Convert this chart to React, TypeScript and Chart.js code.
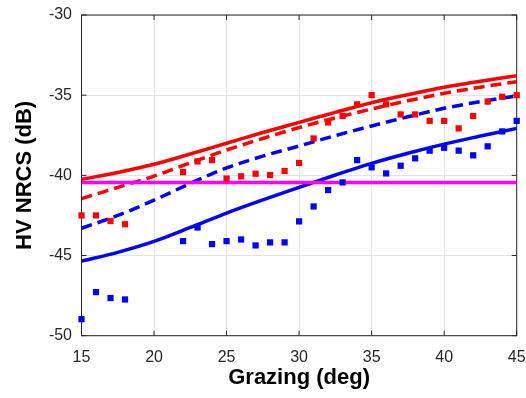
import { useEffect, useRef } from "react";
import { Chart, registerables } from "chart.js";
Chart.register(...registerables);

// Observed data (grazing angle, deg)
const obsX = [15, 16, 17, 18, 22, 23, 24, 25, 26, 27, 28, 29, 30, 31, 32, 33, 34, 35, 36, 37, 38, 39, 40, 41, 42, 43, 44, 45];
const redObs = [-42.5, -42.5, -42.85, -43.05, -39.8, -39.13, -39.05, -40.2, -40.06, -39.9, -39.98, -39.73, -39.23, -37.7, -36.7, -36.3, -35.57, -35.0, -35.57, -36.2, -36.2, -36.6, -36.6, -37.07, -36.3, -35.4, -35.1, -35.0];
const blueObs = [-48.97, -47.28, -47.65, -47.74, -44.1, -43.25, -44.29, -44.1, -44.0, -44.37, -44.18, -44.18, -42.87, -41.94, -40.92, -40.44, -39.05, -39.5, -39.88, -39.4, -38.94, -38.46, -38.28, -38.46, -38.75, -38.19, -37.26, -36.6];

// Model curves
const modelX = [15, 17.5, 20, 22.5, 25, 27.5, 30, 32.5, 35, 37.5, 40, 42.5, 45];
const redSolid = [-40.25, -39.82, -39.31, -38.67, -38.0, -37.33, -36.7, -36.07, -35.47, -34.97, -34.51, -34.13, -33.79];
const redDashed = [-41.45, -40.75, -40.05, -39.22, -38.42, -37.7, -37.02, -36.42, -35.86, -35.35, -34.88, -34.5, -34.16];
const blueDashed = [-43.3, -42.5, -41.55, -40.5, -39.54, -38.8, -38.17, -37.52, -36.92, -36.35, -35.82, -35.4, -35.05];
const blueSolid = [-45.35, -44.8, -44.12, -43.25, -42.35, -41.53, -40.75, -39.98, -39.25, -38.62, -38.05, -37.55, -37.07];

// Noise floor
const floorX = [15, 45];
const floorY = [-40.45, -40.45];

const xTicks = [15, 20, 25, 30, 35, 40, 45];
const yTicks = [-50, -45, -40, -35, -30];

const pts = (xs: number[], ys: number[]) => xs.map((x, i) => ({ x, y: ys[i] }));

const FONT = "'Liberation Sans', Arial, Helvetica, sans-serif";

const boxPlugin = {
  id: "matlabBox",
  beforeDatasetsDraw(chart: any) {
    const { ctx, chartArea: a, scales } = chart;
    ctx.save();
    ctx.strokeStyle = "#262626";
    ctx.lineWidth = 1;
    ctx.strokeRect(a.left, a.top, a.right - a.left, a.bottom - a.top);
    ctx.beginPath();
    const tl = 5;
    xTicks.forEach((v) => {
      const px = scales.x.getPixelForValue(v);
      ctx.moveTo(px, a.bottom);
      ctx.lineTo(px, a.bottom - tl);
      ctx.moveTo(px, a.top);
      ctx.lineTo(px, a.top + tl);
    });
    yTicks.forEach((v) => {
      const py = scales.y.getPixelForValue(v);
      ctx.moveTo(a.left, py);
      ctx.lineTo(a.left + tl, py);
      ctx.moveTo(a.right, py);
      ctx.lineTo(a.right - tl, py);
    });
    ctx.stroke();
    ctx.restore();
  },
};

export default function App() {
  const ref = useRef<HTMLCanvasElement | null>(null);
  useEffect(() => {
    if (!ref.current) return;
    const lineBase = { showLine: true, pointRadius: 0, borderWidth: 3.5, cubicInterpolationMode: "monotone" as const, fill: false };
    const chart = new Chart(ref.current, {
      type: "scatter",
      data: {
        datasets: [
          { label: "red obs", data: pts(obsX, redObs), backgroundColor: "#ff0000", borderWidth: 0, pointStyle: "rect", pointRadius: 4.4, clip: false, order: 0 } as any,
          { label: "blue obs", data: pts(obsX, blueObs), backgroundColor: "#0000ff", borderWidth: 0, pointStyle: "rect", pointRadius: 4.4, clip: false, order: 0 } as any,
          { label: "floor", data: pts(floorX, floorY), ...lineBase, borderColor: "#ff00ff", order: 1 } as any,
          { label: "red solid", data: pts(modelX, redSolid), ...lineBase, borderColor: "#ff0000", order: 2 } as any,
          { label: "red dashed", data: pts(modelX, redDashed), ...lineBase, borderColor: "#ff0000", borderDash: [11, 6], order: 2 } as any,
          { label: "blue dashed", data: pts(modelX, blueDashed), ...lineBase, borderColor: "#0000ff", borderDash: [11, 6], order: 2 } as any,
          { label: "blue solid", data: pts(modelX, blueSolid), ...lineBase, borderColor: "#0000ff", order: 2 } as any,
        ],
      },
      options: {
        animation: false,
        responsive: false,
        layout: { padding: { top: 15, right: 9.3, left: 0, bottom: 0 } },
        plugins: { legend: { display: false }, tooltip: { enabled: false } },
        scales: {
          x: {
            type: "linear",
            min: 15,
            max: 45,
            afterFit: (s: any) => { s.height = 62.3; s.paddingLeft = 0; s.paddingRight = 0; },
            afterBuildTicks: (s: any) => { s.ticks = xTicks.map((v) => ({ value: v })); },
            ticks: { padding: 12, color: "#262626", font: { family: FONT, size: 16 } },
            grid: { color: "#e3e3e3", lineWidth: 1, drawTicks: false },
            border: { display: false },
            title: { display: true, text: "Grazing (deg)", color: "#000", font: { family: FONT, size: 22, weight: "bold" }, padding: { top: 0, bottom: 7 } },
          },
          y: {
            type: "linear",
            min: -50,
            max: -30,
            afterFit: (s: any) => { s.width = 81.5; s.paddingTop = 0; s.paddingBottom = 0; },
            afterBuildTicks: (s: any) => { s.ticks = yTicks.map((v) => ({ value: v })); },
            ticks: { padding: 9.5, color: "#262626", font: { family: FONT, size: 16 } },
            grid: { color: "#e3e3e3", lineWidth: 1, drawTicks: false },
            border: { display: false },
            title: { display: true, text: "HV NRCS (dB)", color: "#000", font: { family: FONT, size: 22, weight: "bold" }, padding: { top: 12, bottom: 0 } },
          },
        },
      },
      plugins: [boxPlugin],
    });
    return () => chart.destroy();
  }, []);
  return (
    <div style={{ position: "fixed", left: 0, top: 0, width: 526, height: 398, background: "#fff" }}>
      <canvas ref={ref} width={526} height={398} />
    </div>
  );
}
